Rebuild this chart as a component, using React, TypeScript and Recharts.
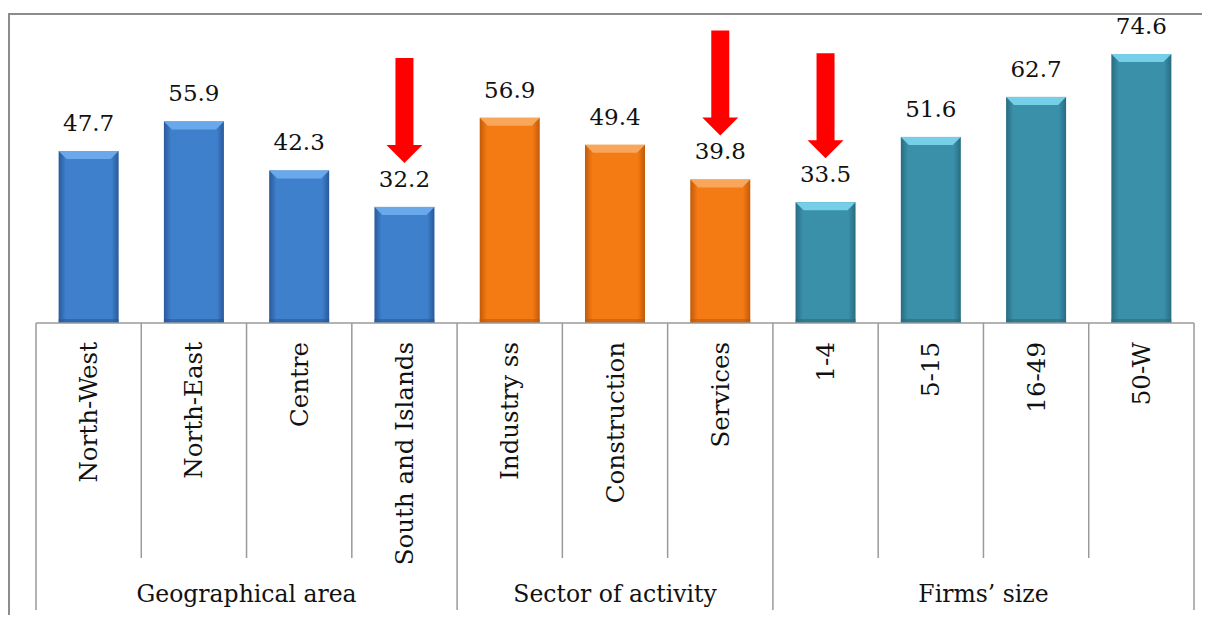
import { Bar, BarChart, Cell, LabelList, XAxis, YAxis } from "recharts";

const categories = [
  "North-West",
  "North-East",
  "Centre",
  "South and Islands",
  "Industry ss",
  "Construction",
  "Services",
  "1-4",
  "5-15",
  "16-49",
  "50-W",
];
const values = [47.7, 55.9, 42.3, 32.2, 56.9, 49.4, 39.8, 33.5, 51.6, 62.7, 74.6];
const groups = ["Geographical area", "Sector of activity", "Firms’ size"];
const groupSizes = [4, 3, 4];
const arrowCategories = ["South and Islands", "Services", "1-4"];

// colours per group: [edge, centre, bevel]
const palette = [
  ["#28599a", "#3f80cc", "#6aa8ec"],
  ["#c25a08", "#f47a14", "#f8a65a"],
  ["#276c82", "#3a8fa9", "#76cfe8"],
];

const W = 1210;
const H = 623;
const LEFT = 36;
const RIGHT = 16;
const AXIS_Y = 323;
const BAND = (W - LEFT - RIGHT) / categories.length;
const FONT = "'DejaVu Serif', serif";
const INK = "#111";

const groupOf: number[] = [];
const groupStart: number[] = [];
groupSizes.forEach((n, g) => {
  groupStart.push(groupOf.length);
  for (let i = 0; i < n; i++) groupOf.push(g);
});

const data = categories.map((name, i) => ({
  name,
  value: values[i],
  arrow: arrowCategories.includes(name),
}));

function BevelBar(props: any) {
  const { x, y, width, height, index } = props;
  const g = groupOf[index];
  const bev = 8;
  return (
    <g>
      <rect x={x} y={y} width={width} height={height} fill={`url(#grad${g})`} />
      <polygon
        points={`${x},${y} ${x + width},${y} ${x + width - bev},${y + bev} ${x + bev},${y + bev}`}
        fill={palette[g][2]}
      />
      <rect x={x} y={y + height - 4} width={width} height={4} fill={palette[g][0]} opacity={0.6} />
    </g>
  );
}

function ValueLabel(props: any) {
  const { x, y, width, value } = props;
  return (
    <text x={x + width / 2} y={y - 20} textAnchor="middle" fontFamily={FONT} fontSize={23} fill={INK}>
      {value.toFixed(1)}
    </text>
  );
}

function ArrowLabel(props: any) {
  const { x, y, width, index } = props;
  if (!data[index].arrow) return null;
  const cx = x + width / 2;
  const tip = y - 44;
  const top = tip - 105;
  const headH = 18;
  const shaft = 9;
  const head = 18;
  return (
    <polygon
      fill="#ff0000"
      points={[
        [cx - shaft, top],
        [cx + shaft, top],
        [cx + shaft, tip - headH],
        [cx + head, tip - headH],
        [cx, tip],
        [cx - head, tip - headH],
        [cx - shaft, tip - headH],
      ]
        .map((p) => p.join(","))
        .join(" ")}
    />
  );
}

function CategoryTick(props: any) {
  const { x, payload } = props;
  const i = payload.index;
  const left = x - BAND / 2;
  const g = groupOf[i];
  const isStart = groupStart[g] === i;
  const isLast = i === categories.length - 1;
  return (
    <g>
      <line x1={left} y1={AXIS_Y} x2={left} y2={isStart ? 610 : 558} stroke="#9a9a9a" strokeWidth={1.5} />
      {isLast && (
        <line x1={left + BAND} y1={AXIS_Y} x2={left + BAND} y2={610} stroke="#9a9a9a" strokeWidth={1.5} />
      )}
      <text
        transform={`translate(${x}, 342) rotate(-90)`}
        textAnchor="end"
        dominantBaseline="central"
        fontFamily={FONT}
        fontSize={24.5}
        fill={INK}
      >
        {payload.value}
      </text>
      {isStart && (
        <text
          x={left + (groupSizes[g] * BAND) / 2}
          y={602}
          textAnchor="middle"
          fontFamily={FONT}
          fontSize={23.5}
          fill={INK}
        >
          {groups[g]}
        </text>
      )}
    </g>
  );
}

export default function App() {
  return (
    <div style={{ position: "relative", width: W, height: H, margin: -8, background: "#fff", overflow: "hidden" }}>
      <div
        style={{
          position: "absolute",
          left: 8,
          top: 13,
          right: -10,
          bottom: -10,
          borderTop: "2px solid #8c8c8c",
          borderLeft: "2px solid #8c8c8c",
        }}
      />
      <BarChart
        width={W}
        height={H}
        data={data}
        margin={{ top: 34.5, right: RIGHT, bottom: 0, left: LEFT }}
        barCategoryGap="21.5%"
        style={{ position: "absolute", left: 0, top: 0 }}
      >
        <defs>
          {palette.map((c, g) => (
            <linearGradient key={g} id={`grad${g}`} x1="0" y1="0" x2="1" y2="0">
              <stop offset="0%" stopColor={c[0]} />
              <stop offset="12%" stopColor={c[1]} />
              <stop offset="88%" stopColor={c[1]} />
              <stop offset="100%" stopColor={c[0]} />
            </linearGradient>
          ))}
        </defs>
        <XAxis
          dataKey="name"
          interval={0}
          height={H - AXIS_Y}
          tickSize={0}
          tickMargin={0}
          tickLine={false}
          axisLine={{ stroke: "#9a9a9a", strokeWidth: 1.5 }}
          tick={<CategoryTick />}
        />
        <YAxis hide domain={[0, 80]} width={0} />
        <Bar dataKey="value" shape={<BevelBar />} isAnimationActive={false}>
          {data.map((d, i) => (
            <Cell key={d.name} fill={palette[groupOf[i]][1]} />
          ))}
          <LabelList dataKey="value" content={<ValueLabel />} />
          <LabelList dataKey="value" content={<ArrowLabel />} />
        </Bar>
      </BarChart>
    </div>
  );
}
